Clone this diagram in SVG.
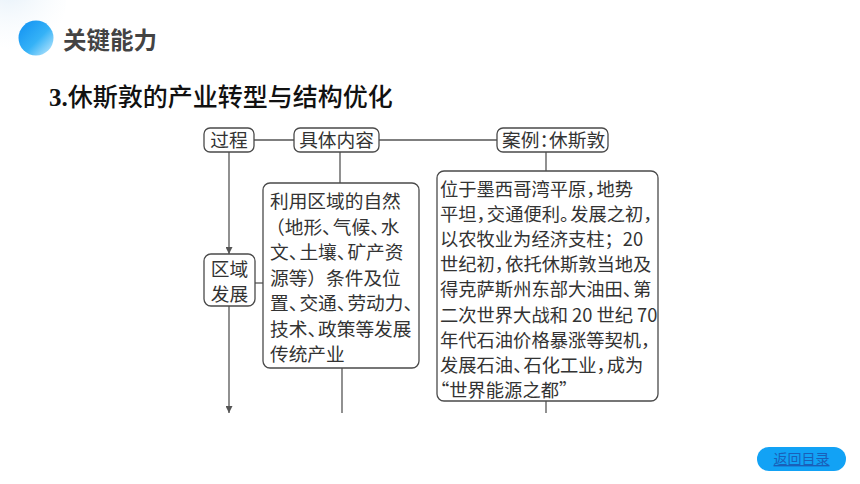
<svg xmlns="http://www.w3.org/2000/svg" width="860" height="484" viewBox="0 0 860 484">
<defs>
<style>
.cjk{font-family:"Noto Sans CJK SC","Noto Sans",sans-serif;}
.box{fill:#ffffff;stroke:#4a4a4a;stroke-width:1.3;}
.lbl{font-size:18.7px;fill:#333333;}
.t1{font-size:18.7px;fill:#333333;}
.t2{font-size:18.3px;fill:#333333;}
.con{stroke:#555555;stroke-width:1.3;fill:none;}
</style>
<linearGradient id="ball" x1="0" y1="0" x2="1" y2="1">
<stop offset="0" stop-color="#0f8ff2"/>
<stop offset="0.55" stop-color="#35b2f7"/>
<stop offset="1" stop-color="#c9ecfd"/>
</linearGradient>
<radialGradient id="haze" cx="0.4" cy="0.3" r="0.7">
<stop offset="0" stop-color="#e3eff9"/>
<stop offset="1" stop-color="#f4f9fd" stop-opacity="0"/>
</radialGradient>
<marker id="arr" viewBox="0 0 10 10" refX="10" refY="5" markerWidth="7" markerHeight="7" markerUnits="userSpaceOnUse" orient="auto">
<path d="M0,0 L10,5 L0,10 Z" fill="#555555"/>
</marker>
</defs>
<rect width="860" height="484" fill="#ffffff"/>

<g id="header">
<circle cx="18" cy="2" r="48" fill="url(#haze)"/>
<circle cx="36" cy="38" r="17.5" fill="url(#ball)"/>
<text class="cjk" x="63" y="48.5" font-size="23.5" font-weight="bold" fill="#434343">关键能力</text>
</g>

<g id="title">
<text x="49" y="106" font-size="25" fill="#111111"><tspan font-family="Liberation Serif,serif" font-weight="bold">3.</tspan><tspan class="cjk" font-weight="500">休斯敦的产业转型与结构优化</tspan></text>
</g>

<g id="connectors">
<line class="con" x1="254" y1="140" x2="294" y2="140"/>
<line class="con" x1="379" y1="140" x2="497" y2="140"/>
<line class="con" x1="229" y1="152" x2="229" y2="254" marker-end="url(#arr)"/>
<line class="con" x1="229" y1="306" x2="229" y2="413" marker-end="url(#arr)"/>
<line class="con" x1="255" y1="283" x2="263" y2="283"/>
<line class="con" x1="340" y1="152" x2="340" y2="183"/>
<line class="con" x1="342" y1="368" x2="342" y2="413"/>
<line class="con" x1="546" y1="152" x2="546" y2="171"/>
<line class="con" x1="546" y1="401" x2="546" y2="413"/>
</g>

<g id="node-guocheng">
<rect class="box" x="204" y="128" width="50" height="24" rx="6"/>
<text class="cjk lbl" x="229" y="147" text-anchor="middle">过程</text>
</g>

<g id="node-jutineirong">
<rect class="box" x="294" y="128" width="85" height="24" rx="6"/>
<text class="cjk lbl" x="336.5" y="147" text-anchor="middle">具体内容</text>
</g>

<g id="node-anli">
<rect class="box" x="497" y="128" width="111" height="24" rx="6"/>
<text class="cjk lbl" x="502" y="147" dx="0 0 0 -9">案例：休斯敦</text>
</g>

<g id="node-quyufazhan">
<rect class="box" x="204" y="254" width="51" height="52" rx="7"/>
<text class="cjk lbl" x="229.5" y="275.5" text-anchor="middle">区域</text>
<text class="cjk lbl" x="229.5" y="301" text-anchor="middle">发展</text>
</g>

<g id="node-content">
<rect class="box" x="263" y="183" width="156" height="185" rx="7"/>
<text class="cjk t1" x="270" y="208">利用区域的自然</text>
<text class="cjk t1" x="266" y="233.5" dx="0 0 0 0 -8 0 0 -8">（地形、气候、水</text>
<text class="cjk t1" x="270" y="259" dx="0 0 -8 0 0 -8">文、土壤、矿产资</text>
<text class="cjk t1" x="270" y="284.5">源等）条件及位</text>
<text class="cjk t1" x="270" y="310" dx="0 0 -8 0 0 -8">置、交通、劳动力、</text>
<text class="cjk t1" x="270" y="335.5" dx="0 0 0 -8">技术、政策等发展</text>
<text class="cjk t1" x="270" y="361">传统产业</text>
</g>

<g id="node-case">
<rect class="box" x="437" y="171" width="221" height="230" rx="7"/>
<text class="cjk t2" x="440" y="196" dx="0 0 0 0 0 0 0 0 0 -8">位于墨西哥湾平原，地势</text>
<text class="cjk t2" x="440" y="221.1" dx="0 0 0 -8 0 0 0 0 -8">平坦，交通便利。发展之初，</text>
<text class="cjk t2" x="440" y="246.2">以农牧业为经济支柱；20</text>
<text class="cjk t2" x="440" y="271.3" dx="0 0 0 0 -8">世纪初，依托休斯敦当地及</text>
<text class="cjk t2" x="440" y="296.4" dx="0 0 0 0 0 0 0 0 0 0 0 -8">得克萨斯州东部大油田、第</text>
<text class="cjk t2" x="440" y="321.5">二次世界大战和 20 世纪 70</text>
<text class="cjk t2" x="440" y="346.6">年代石油价格暴涨等契机，</text>
<text class="cjk t2" x="440" y="371.7" dx="0 0 0 0 0 -8 0 0 0 0 -8">发展石油、石化工业，成为</text>
<text class="cjk t2" x="431" y="396.8">“世界能源之都”</text>
</g>

<g id="btn-back">
<rect x="757" y="447" width="89" height="24" rx="12" fill="#12a2f5"/>
<text class="cjk" x="801.5" y="464" font-size="14" fill="#1a5fb8" text-anchor="middle" text-decoration="underline">返回目录</text>
</g>
</svg>
